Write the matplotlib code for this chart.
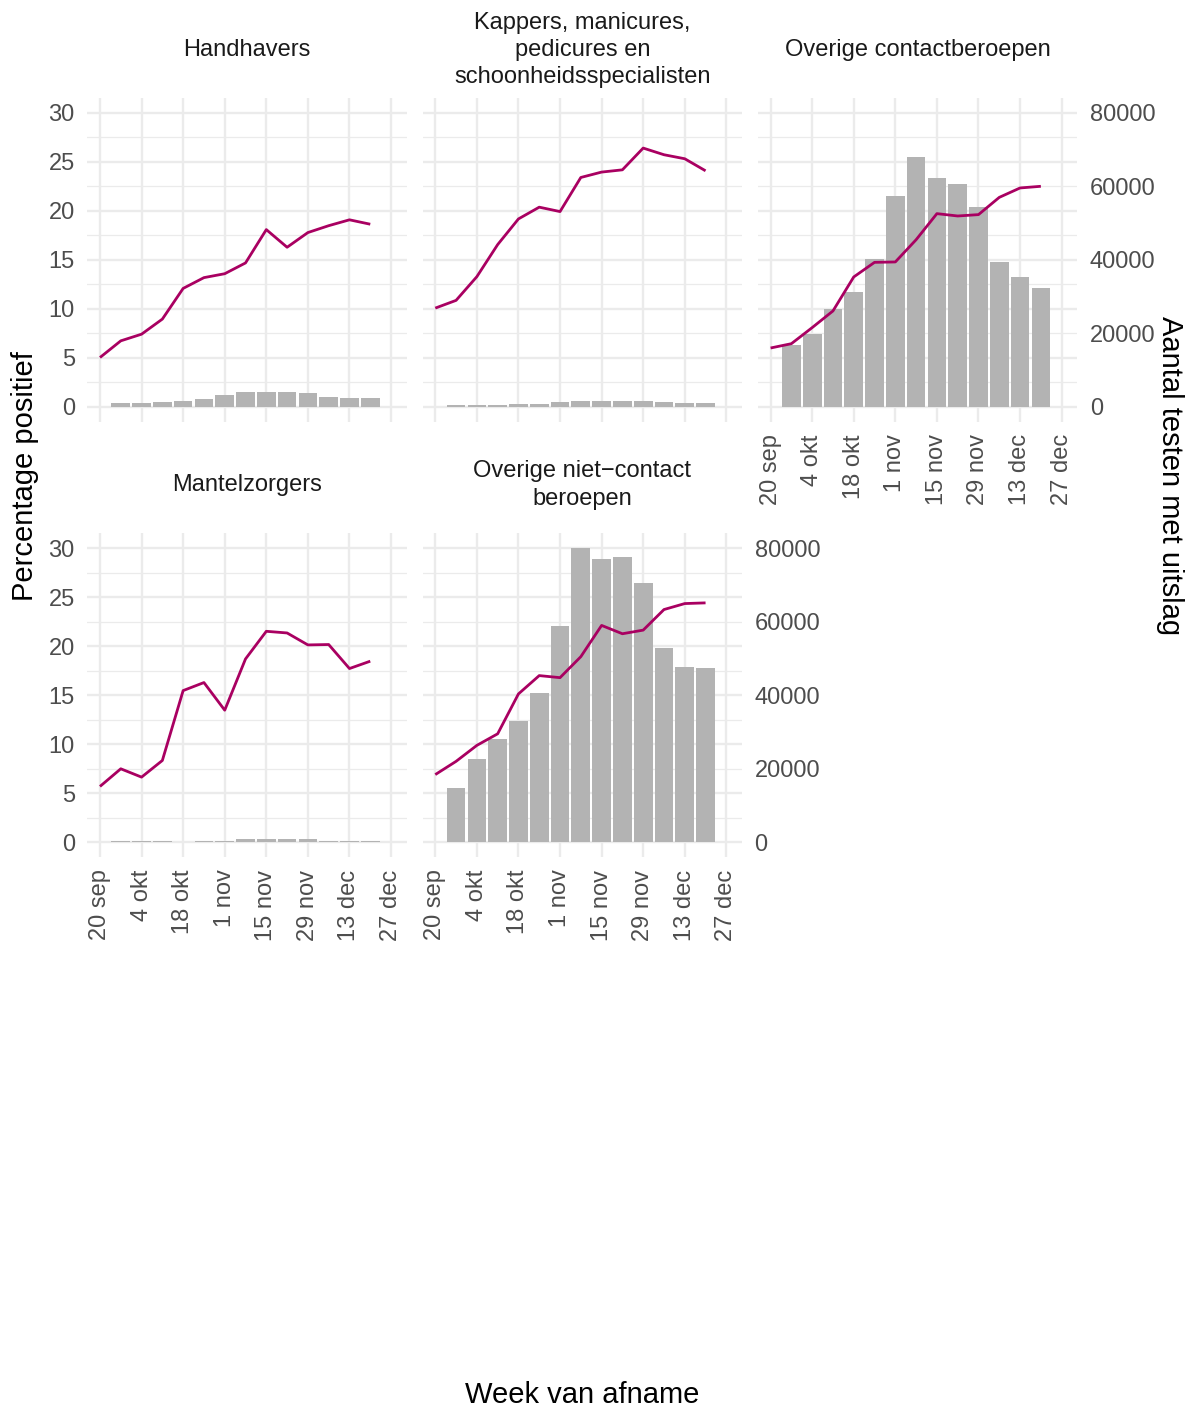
import matplotlib
matplotlib.use('Agg')
import matplotlib.pyplot as plt
import matplotlib.dates as mdates
import numpy as np
import datetime as dt

plt.rcParams['font.family'] = ['Liberation Sans', 'DejaVu Sans']

# weken (lijn start een week eerder dan de staven)
weeks = [dt.date(2020, 9, 20) + dt.timedelta(weeks=i) for i in range(14)]
bar_weeks = weeks[1:]

titles = ['Handhavers',
          'Kappers, manicures,\npedicures en\nschoonheidsspecialisten',
          'Overige contactberoepen',
          'Mantelzorgers',
          'Overige niet\u2212contact\nberoepen']

pct_handhavers = [5.05, 6.75, 7.43, 8.97, 12.1, 13.2, 13.6, 14.7, 18.1, 16.3, 17.8, 18.5, 19.1, 18.65]
n_handhavers = [1000, 1000, 1270, 1545, 2090, 3180, 4000, 4000, 4000, 3730, 2640, 2360, 2360]

pct_kappers = [10.09, 10.88, 13.30, 16.57, 19.19, 20.39, 19.94, 23.42, 23.97, 24.20, 26.42, 25.74, 25.33, 24.10]
n_kappers = [450, 450, 450, 730, 730, 1270, 1545, 1545, 1545, 1545, 1270, 1000, 1000]

pct_contact = [6.02, 6.46, 8.10, 9.80, 13.27, 14.76, 14.80, 17.07, 19.73, 19.49, 19.63, 21.39, 22.35, 22.52]
n_contact = [16870, 19860, 26670, 31290, 40180, 57410, 68030, 62310, 60680, 54330, 39460, 35370, 32380]

pct_mantel = [5.71, 7.51, 6.66, 8.36, 15.49, 16.31, 13.49, 18.72, 21.54, 21.37, 20.15, 20.19, 17.74, 18.49]
n_mantel = [300, 300, 300, 150, 500, 500, 850, 850, 850, 850, 500, 500, 500]

pct_niet = [6.92, 8.27, 9.90, 11.08, 15.15, 17.02, 16.81, 18.95, 22.14, 21.29, 21.66, 23.76, 24.37, 24.44]
n_niet = [14735, 22600, 28020, 32900, 40770, 58940, 80190, 77110, 77650, 70600, 52970, 47820, 47550]

pct_all = [pct_handhavers, pct_kappers, pct_contact, pct_mantel, pct_niet]
n_all = [n_handhavers, n_kappers, n_contact, n_mantel, n_niet]

tick_dates = [dt.date(2020, 9, 20) + dt.timedelta(days=14 * i) for i in range(8)]
tick_labels = ['20 sep', '4 okt', '18 okt', '1 nov', '15 nov', '29 nov', '13 dec', '27 dec']
pct_ticks = [0, 5, 10, 15, 20, 25, 30]
n_ticks = [0, 20000, 40000, 60000, 80000]

k = 80000 / 30  # verhouding rechter / linker as
LINE = '#A90061'
BAR = '#B3B3B3'
GRID = '#EBEBEB'
TXT = '#4D4D4D'

W, H = 1192, 1408
fig = plt.figure(figsize=(W / 100, H / 100), dpi=100)

lefts = [87.3, 422.6, 757.9]
tops = [97.6, 533.0]
pw, ph = 319.4, 324.1
strip_y = [50, 485]

xmin = mdates.date2num(dt.date(2020, 9, 20)) - 4.27
xmax = mdates.date2num(dt.date(2020, 12, 27)) + 5.27

for i in range(5):
    r, c = divmod(i, 3)
    ax = fig.add_axes([lefts[c] / W, 1 - (tops[r] + ph) / H, pw / W, ph / H])
    ax.set_axisbelow(True)
    ax.bar(bar_weeks, np.array(n_all[i]) / k, width=6.3, color=BAR, zorder=2)
    ax.plot(weeks, pct_all[i], color=LINE, lw=2.0, zorder=3, solid_capstyle='butt')
    ax.set_xlim(xmin, xmax)
    ax.set_ylim(-1.5, 31.57)
    ax.set_yticks(pct_ticks)
    ax.set_yticks(np.arange(2.5, 30, 5), minor=True)
    ax.set_xticks([mdates.date2num(d) for d in tick_dates])
    ax.set_xticklabels(tick_labels, rotation=90)
    ax.grid(which='major', color=GRID, lw=1.7)
    ax.grid(which='minor', axis='y', color=GRID, lw=0.9)
    for s in ax.spines.values():
        s.set_visible(False)
    ax.tick_params(which='both', length=0, labelsize=17, colors=TXT)
    ax.tick_params(axis='y', pad=9)
    ax.tick_params(axis='x', pad=9)
    if c != 0:
        ax.tick_params(axis='y', labelleft=False)
    if i in (0, 1):
        ax.tick_params(axis='x', labelbottom=False)
    if i in (2, 4):
        sec = ax.secondary_yaxis('right', functions=(lambda p: p * k, lambda n: n / k))
        sec.set_yticks(n_ticks)
        sec.tick_params(length=0, labelsize=17, colors=TXT, pad=9)
        for s in sec.spines.values():
            s.set_visible(False)
    fig.text((lefts[c] + pw / 2) / W, 1 - strip_y[r] / H, titles[i], ha='center', va='center',
             fontsize=17, color='#1A1A1A', linespacing=1.3)

fig.text(25 / W, 1 - 476 / H, 'Percentage positief', rotation=90, ha='center', va='center', fontsize=21)
fig.text(1170 / W, 1 - 476 / H, 'Aantal testen met uitslag', rotation=-90, ha='center', va='center', fontsize=21)
fig.text(582 / W, 1 - 1395 / H, 'Week van afname', ha='center', va='center', fontsize=21)

fig.savefig('out.png', dpi=100, facecolor='white')
